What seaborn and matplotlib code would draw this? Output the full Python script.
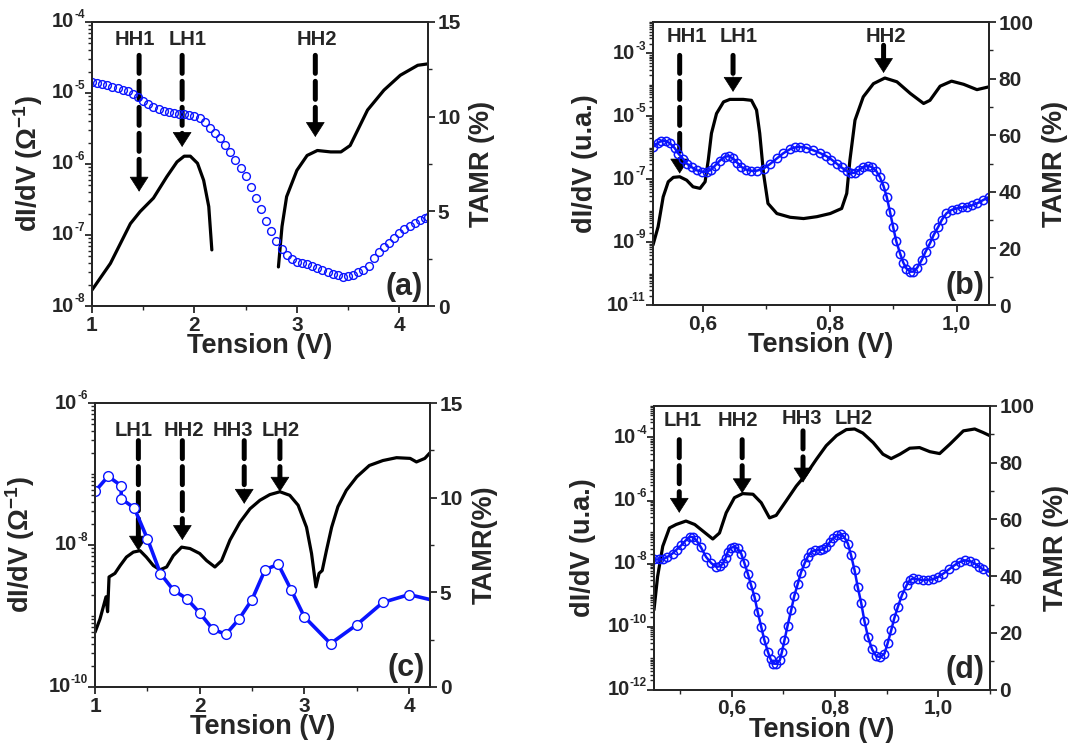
import numpy as np
import matplotlib
matplotlib.use('Agg')
import matplotlib.pyplot as plt
import matplotlib.ticker as mticker
import seaborn as sns

# ---- panel (a) ----
va_k1 = [1.0, 1.18, 1.375, 1.47, 1.60, 1.73, 1.83, 1.90, 1.96, 2.03, 2.09, 2.14, 2.17]
ea_k1 = [-7.775, -7.40, -6.84, -6.67, -6.48, -6.18, -5.97, -5.89, -5.89, -5.99, -6.23, -6.60, -7.21]
va_k2 = [2.82, 2.855, 2.90, 3.0, 3.1, 3.2, 3.33, 3.43, 3.52, 3.69, 3.85, 4.01, 4.18, 4.28]
ea_k2 = [-7.45, -6.88, -6.46, -6.09, -5.88, -5.81, -5.83, -5.83, -5.74, -5.24, -4.96, -4.75, -4.61, -4.59]
va_t = [1.00, 1.05, 1.10, 1.15, 1.20, 1.25, 1.30, 1.35, 1.40, 1.45, 1.50, 1.55, 1.60, 1.65,
        1.70, 1.75, 1.80, 1.85, 1.90, 1.95, 2.00, 2.05, 2.10, 2.15, 2.20, 2.25, 2.30, 2.35,
        2.40, 2.45, 2.50, 2.55, 2.60, 2.65, 2.70, 2.75, 2.80, 2.85, 2.90, 2.95, 3.00, 3.05,
        3.10, 3.15, 3.20, 3.25, 3.30, 3.35, 3.40, 3.45, 3.50, 3.55, 3.60, 3.65, 3.70, 3.75,
        3.80, 3.85, 3.90, 3.95, 4.00, 4.05, 4.10, 4.15, 4.20, 4.25, 4.28]
ta_t = [11.85, 11.8, 11.72, 11.65, 11.57, 11.5, 11.42, 11.33, 11.2, 11.02, 10.85, 10.65, 10.5, 10.38,
        10.28, 10.22, 10.18, 10.16, 10.12, 10.1, 10.05, 9.92, 9.7, 9.42, 9.15, 8.85, 8.5, 8.12,
        7.7, 7.3, 6.85, 6.3, 5.72, 5.1, 4.5, 3.95, 3.45, 3.0, 2.68, 2.5, 2.35, 2.25,
        2.2, 2.1, 2.02, 1.92, 1.82, 1.7, 1.62, 1.55, 1.56, 1.66, 1.78, 1.9, 2.1, 2.55,
        2.85, 3.1, 3.35, 3.6, 3.85, 4.05, 4.22, 4.38, 4.52, 4.65, 4.72]
labels_a = ['HH1', 'LH1', 'HH2']
labx_a = [1.42, 1.93, 3.20]
laby_a = [-4.25, -4.25, -4.25]
arrx_a = [1.46, 1.88, 3.18]
arrtop_a = [-4.47, -4.47, -4.47]
arrtip_a = [-6.39, -5.76, -5.62]
yexp_a = [-8, -7, -6, -5, -4]

# ---- panel (b) ----
vb_k = [0.522, 0.530, 0.538, 0.546, 0.554, 0.564, 0.575, 0.585, 0.596, 0.604, 0.609, 0.614,
        0.622, 0.633, 0.643, 0.664, 0.677, 0.685, 0.690, 0.696, 0.703, 0.717, 0.738, 0.759,
        0.780, 0.801, 0.819, 0.827, 0.832, 0.840, 0.853, 0.869, 0.887, 0.906, 0.927, 0.948,
        0.958, 0.974, 0.992, 1.011, 1.032, 1.051]
eb_k = [-9.09, -8.51, -7.56, -7.08, -6.94, -6.92, -7.03, -7.24, -7.29, -7.08, -6.39, -5.54,
        -4.91, -4.54, -4.46, -4.46, -4.49, -4.80, -5.54, -6.82, -7.77, -8.09, -8.21, -8.25,
        -8.19, -8.09, -7.93, -7.45, -6.39, -5.12, -4.38, -3.96, -3.78, -3.90, -4.27, -4.59,
        -4.49, -4.04, -3.88, -3.98, -4.15, -4.06]
vb_t = [0.522, 0.53, 0.535, 0.542, 0.549, 0.556, 0.562, 0.569, 0.575, 0.583, 0.591, 0.599,
        0.607, 0.613, 0.619, 0.627, 0.635, 0.641, 0.648, 0.655, 0.661, 0.669, 0.677, 0.686,
        0.696, 0.706, 0.717, 0.727, 0.738, 0.746, 0.753, 0.763, 0.774, 0.785, 0.795, 0.803,
        0.811, 0.819, 0.827, 0.834, 0.840, 0.847, 0.853, 0.86, 0.866, 0.873, 0.879, 0.885,
        0.890, 0.895, 0.900, 0.905, 0.911, 0.916, 0.921, 0.927, 0.932, 0.938, 0.945, 0.951,
        0.958, 0.964, 0.971, 0.977, 0.984, 0.992, 1.0, 1.008, 1.016, 1.024, 1.032, 1.041, 1.051]
tb_t = [55.9, 57.3, 58.0, 58.0, 57.1, 55.5, 53.5, 51.7, 50.0, 48.7, 47.6, 47.1,
        47.1, 47.8, 49.1, 51.0, 52.4, 52.6, 51.8, 50.2, 48.8, 47.8, 47.4, 47.5,
        48.2, 49.8, 51.8, 53.6, 55.1, 55.7, 55.9, 55.6, 54.7, 53.7, 52.6, 51.4,
        50.0, 48.6, 47.3, 46.7, 46.7, 47.8, 48.8, 49.2, 48.8, 47.5, 45.3, 42.0,
        38.2, 33.0, 27.6, 22.5, 18.2, 15.0, 12.9, 11.8, 11.8, 13.2, 15.9, 18.8,
        21.8, 24.8, 27.6, 30.2, 32.4, 33.6, 34.1, 34.5, 34.7, 35.2, 35.9, 37.0, 38.2]
labels_b = ['HH1', 'LH1', 'HH2']
labx_b = [0.575, 0.656, 0.889]
laby_b = [-2.45, -2.45, -2.45]
arrx_b = [0.564, 0.648, 0.885]
arrtop_b = [-3.06, -3.06, -2.74]
arrtip_b = [-6.82, -4.22, -3.62]
yexp_b = [-11, -9, -7, -5, -3]

# ---- panel (c) ----
vc_k = [1.0, 1.048, 1.105, 1.12, 1.134, 1.19, 1.24, 1.30, 1.366, 1.43, 1.49, 1.557, 1.62,
        1.684, 1.748, 1.827, 1.907, 2.0, 2.066, 2.145, 2.209, 2.289, 2.384, 2.48, 2.575,
        2.67, 2.766, 2.86, 2.94, 3.02, 3.068, 3.11, 3.14, 3.17, 3.21, 3.26, 3.32, 3.40,
        3.50, 3.62, 3.75, 3.88, 4.01, 4.07, 4.15, 4.2]
ec_k = [-9.23, -9.04, -8.73, -8.94, -8.45, -8.40, -8.29, -8.17, -8.10, -8.08, -8.17, -8.29, -8.35,
        -8.31, -8.15, -8.03, -8.05, -8.12, -8.22, -8.31, -8.22, -7.93, -7.68, -7.49, -7.37,
        -7.29, -7.25, -7.30, -7.44, -7.75, -8.12, -8.59, -8.40, -8.36, -8.08, -7.75, -7.46, -7.23,
        -7.04, -6.88, -6.81, -6.77, -6.78, -6.83, -6.78, -6.70]
vc_t = [1.0, 1.125, 1.25, 1.25, 1.375, 1.5, 1.625, 1.75, 1.875, 2.0, 2.125, 2.25, 2.375,
        2.5, 2.625, 2.75, 2.875, 3.0, 3.25, 3.5, 3.75, 4.0, 4.25]
tc_t = [10.33, 11.13, 10.63, 9.95, 9.45, 7.83, 5.99, 5.11, 4.67, 3.91, 3.05, 2.78, 3.58,
        4.62, 6.20, 6.48, 5.11, 3.70, 2.29, 3.29, 4.47, 4.88, 4.55]
labels_c = ['LH1', 'HH2', 'HH3', 'LH2']
labx_c = [1.366, 1.853, 2.32, 2.775]
laby_c = [-6.385, -6.385, -6.385, -6.385]
arrx_c = [1.414, 1.834, 2.425, 2.766]
arrtop_c = [-6.53, -6.53, -6.53, -6.53]
arrtip_c = [-8.08, -7.93, -7.42, -7.25]
yexp_c = [-10, -8, -6]

# ---- panel (d) ----
vd_k = [0.449, 0.456, 0.466, 0.479, 0.492, 0.511, 0.528, 0.544, 0.563, 0.576, 0.589, 0.605,
        0.621, 0.641, 0.657, 0.673, 0.686, 0.705, 0.725, 0.744, 0.764, 0.783, 0.803, 0.822,
        0.838, 0.854, 0.874, 0.893, 0.909, 0.926, 0.945, 0.964, 0.984, 1.003, 1.023, 1.049,
        1.071, 1.087, 1.1]
ed_k = [-9.47, -8.41, -7.45, -6.87, -6.76, -6.65, -6.76, -6.97, -7.22, -7.03, -6.39, -5.91,
        -5.78, -5.80, -6.07, -6.55, -6.47, -6.02, -5.54, -5.17, -4.69, -4.26, -3.94, -3.75,
        -3.73, -3.86, -4.16, -4.53, -4.67, -4.53, -4.34, -4.32, -4.45, -4.51, -4.21, -3.79,
        -3.73, -3.84, -3.94]
vd_t = [0.449, 0.458, 0.466, 0.475, 0.485, 0.493, 0.502, 0.510, 0.518, 0.524, 0.531, 0.540,
        0.550, 0.560, 0.570, 0.577, 0.583, 0.588, 0.592, 0.598, 0.605, 0.611, 0.618, 0.624,
        0.631, 0.637, 0.644, 0.650, 0.657, 0.663, 0.670, 0.675, 0.680, 0.686, 0.693, 0.697,
        0.702, 0.708, 0.715, 0.721, 0.728, 0.734, 0.741, 0.747, 0.754, 0.762, 0.770, 0.777,
        0.783, 0.790, 0.796, 0.804, 0.812, 0.818, 0.825, 0.831, 0.838, 0.844, 0.851, 0.857,
        0.864, 0.872, 0.880, 0.888, 0.896, 0.902, 0.909, 0.915, 0.922, 0.930, 0.939, 0.945,
        0.951, 0.961, 0.971, 0.980, 0.990, 1.000, 1.010, 1.021, 1.032, 1.042, 1.052, 1.062,
        1.071, 1.080, 1.087, 1.1]
td_t = [45.9, 45.9, 45.9, 46.8, 48.0, 49.4, 50.9, 52.5, 53.9, 53.8, 52.7, 50.2,
        46.8, 44.6, 43.3, 43.5, 44.5, 46.5, 48.6, 50.0, 50.4, 49.8, 48.0, 44.8,
        40.9, 37.0, 32.7, 27.5, 22.1, 17.5, 13.3, 10.8, 9.2, 9.1, 10.4, 13.2,
        17.4, 22.5, 28.0, 33.0, 37.4, 41.3, 44.5, 46.8, 48.6, 49.1, 49.2, 49.5,
        50.4, 52.0, 53.3, 54.4, 54.8, 53.8, 51.5, 47.5, 42.1, 36.3, 30.4, 24.3,
        18.6, 14.2, 11.8, 11.5, 12.7, 16.3, 20.9, 25.2, 29.2, 33.4, 36.8, 38.5,
        39.2, 38.9, 38.6, 38.7, 38.9, 39.7, 40.9, 42.4, 43.9, 45.0, 45.6, 45.3,
        44.5, 43.3, 42.4, 41.5]
labels_d = ['LH1', 'HH2', 'HH3', 'LH2']
labx_d = [0.505, 0.612, 0.735, 0.836]
laby_d = [-3.47, -3.47, -3.39, -3.41]
arrx_d = [0.498, 0.62, 0.738, None]
arrtop_d = [-4.07, -4.07, -3.79, None]
arrtip_d = [-6.39, -5.77, -5.43, None]
yexp_d = [-12, -10, -8, -6, -4]

sns.set_style('ticks')
plt.rcParams['font.family'] = ['Liberation Sans', 'DejaVu Sans']
plt.rcParams['font.weight'] = 'bold'
plt.rcParams['axes.labelweight'] = 'bold'
plt.rcParams['mathtext.fontset'] = 'custom'
plt.rcParams['mathtext.rm'] = 'Liberation Sans:bold'
plt.rcParams['mathtext.bf'] = 'Liberation Sans:bold'
plt.rcParams['mathtext.it'] = 'Liberation Sans:bold'
plt.rcParams['axes.linewidth'] = 1.4

BLUE = '#0a14ff'
TICK_FS = 15
LAB_FS = 19.5


def comma_fmt(v, pos):
    return ('%.1f' % v).replace('.', ',')


def log_labels(ax, exps, fs=14.5, sfs=8.5, pad=5.0):
    # "10" with a small raised exponent, as in the original figure
    trans = ax.get_yaxis_transform()
    for e in exps:
        s = '%d' % e
        nd = s.count('-')
        w = sfs * (0.36 * nd + 0.556 * (len(s) - nd))
        ax.annotate('10', xy=(0, 10.0 ** e), xycoords=trans, xytext=(-(pad + w), 0),
                    textcoords='offset points', ha='right', va='center',
                    fontsize=fs, fontweight='bold', annotation_clip=False)
        ax.annotate(s, xy=(0, 10.0 ** e), xycoords=trans, xytext=(-(pad + w), 5.0),
                    textcoords='offset points', ha='left', va='center',
                    fontsize=sfs, fontweight='bold', annotation_clip=False)


def panel(fig, rect, k_segs, v_t, t_t, xlim, xmaj, xmin, ylim, yexps, tlim, tmaj, tmin,
          ylab, ylab_x, tlab, letter, labels, labx, laby, arrx, arrtop, arrtip,
          comma=False, style='dots'):
    ax = fig.add_axes(rect)
    for v, e in k_segs:
        sns.lineplot(x=v, y=10.0 ** np.array(e), ax=ax, color='k', lw=2.3,
                     sort=False, estimator=None)
    ax.set_yscale('log')
    ax.set_xlim(*xlim)
    ax.set_ylim(*ylim)
    ax.yaxis.set_major_locator(mticker.FixedLocator([10.0 ** e for e in yexps]))
    ax.yaxis.set_minor_locator(mticker.LogLocator(base=10.0, subs=np.arange(1, 10), numticks=100))
    ax.yaxis.set_minor_formatter(mticker.NullFormatter())
    ax.yaxis.set_major_formatter(mticker.NullFormatter())
    log_labels(ax, yexps)
    ax.xaxis.set_major_locator(mticker.MultipleLocator(xmaj))
    ax.xaxis.set_minor_locator(mticker.MultipleLocator(xmin))
    if comma:
        ax.xaxis.set_major_formatter(mticker.FuncFormatter(comma_fmt))
    ax.tick_params(axis='both', which='major', labelsize=TICK_FS, length=5, width=1.3,
                   direction='out', pad=2)
    ax.tick_params(axis='both', which='minor', length=3, width=1.0, direction='out')
    ax.tick_params(axis='y', which='both', right=False)
    ax.tick_params(axis='x', which='both', top=False)
    ax.set_xlabel('Tension (V)', fontsize=LAB_FS, fontweight='bold', labelpad=-1)
    ax.set_ylabel(ylab, fontsize=LAB_FS, fontweight='bold')
    ax.yaxis.set_label_coords(ylab_x, 0.5)

    ax2 = ax.twinx()
    if style == 'line':
        sns.lineplot(x=v_t, y=t_t, ax=ax2, color=BLUE, lw=2.6, sort=False, estimator=None,
                     marker='o', markersize=7, markerfacecolor='white',
                     markeredgecolor=BLUE, markeredgewidth=1.0)
    elif style == 'band':
        sns.lineplot(x=v_t, y=t_t, ax=ax2, color=BLUE, lw=1.8, sort=False, estimator=None,
                     marker='o', markersize=6, markerfacecolor='none',
                     markeredgecolor=BLUE, markeredgewidth=1.1)
    else:
        sns.lineplot(x=v_t, y=t_t, ax=ax2, color=BLUE, lw=0, sort=False, estimator=None,
                     marker='o', markersize=5.6, markerfacecolor='none',
                     markeredgecolor=BLUE, markeredgewidth=1.0)
    ax2.set_ylim(*tlim)
    ax2.set_xlim(*xlim)
    ax2.yaxis.set_major_locator(mticker.MultipleLocator(tmaj))
    ax2.yaxis.set_minor_locator(mticker.MultipleLocator(tmin))
    ax2.tick_params(axis='y', which='major', labelsize=TICK_FS, length=5, width=1.3,
                    direction='out', pad=2)
    ax2.tick_params(axis='y', which='minor', length=3, width=1.0, direction='out')
    ax2.set_ylabel(tlab, fontsize=LAB_FS, fontweight='bold', labelpad=6)
    for s in ax2.spines.values():
        s.set_linewidth(1.4)

    # peak markers: dashed arrows with labels
    for i, lab in enumerate(labels):
        ax.text(labx[i], 10.0 ** laby[i], lab, ha='center', va='center',
                fontsize=14.5, fontweight='bold', zorder=6)
        if arrx[i] is None:
            continue
        top = 10.0 ** arrtop[i]
        tip = 10.0 ** arrtip[i]
        ax.annotate('', xy=(arrx[i], tip), xytext=(arrx[i], top),
                    arrowprops=dict(arrowstyle='-', color='k', lw=3.6,
                                    linestyle=(0, (3.6, 1.6)), shrinkA=0, shrinkB=9),
                    zorder=6)
        ax.annotate('', xy=(arrx[i], tip), xytext=(0, 11), textcoords='offset points',
                    arrowprops=dict(arrowstyle='-|>,head_length=0.5,head_width=0.32',
                                    color='k', lw=0.5, shrinkA=0, shrinkB=0,
                                    mutation_scale=20),
                    zorder=7)
    ax2.text(0.985, 0.015, letter, transform=ax2.transAxes, ha='right', va='bottom',
             fontsize=22, fontweight='bold')
    return ax, ax2


fig = plt.figure(figsize=(10.86, 7.55), dpi=100)

panel(fig, [0.0847, 0.5947, 0.3094, 0.3762], [(va_k1, ea_k1), (va_k2, ea_k2)], va_t, ta_t,
      (1.0, 4.28), 1, 0.5, (1e-8, 1e-4), yexp_a, (0, 15), 5, 2.5,
      'dI/dV (Ω$^{\\mathbf{-1}}$)', -0.14, 'TAMR (%)', '(a)',
      labels_a, labx_a, laby_a, arrx_a, arrtop_a, arrtip_a)

panel(fig, [0.6013, 0.5960, 0.3094, 0.3748], [(vb_k, eb_k)], vb_t, tb_t,
      (0.522, 1.051), 0.2, 0.1, (1e-11, 1e-2), yexp_b, (0, 100), 20, 10,
      'dI/dV (u.a.)', -0.165, 'TAMR (%)', '(b)',
      labels_b, labx_b, laby_b, arrx_b, arrtop_b, arrtip_b, comma=True, style='band')

panel(fig, [0.0875, 0.0901, 0.3085, 0.3761], [(vc_k, ec_k)], vc_t, tc_t,
      (1.0, 4.2), 1, 0.5, (1e-10, 1e-6), yexp_c, (0, 15), 5, 2.5,
      'dI/dV (Ω$^{\\mathbf{-1}}$)', -0.173, 'TAMR(%)', '(c)',
      labels_c, labx_c, laby_c, arrx_c, arrtop_c, arrtip_c, style='line')

panel(fig, [0.6022, 0.0865, 0.3091, 0.3758], [(vd_k, ed_k)], vd_t, td_t,
      (0.449, 1.1), 0.2, 0.1, (1e-12, 1e-3), yexp_d, (0, 100), 20, 10,
      'dI/dV (u.a.)', -0.173, 'TAMR (%)', '(d)',
      labels_d, labx_d, laby_d, arrx_d, arrtop_d, arrtip_d, comma=True, style='band')

fig.savefig('out.png', dpi=100)
